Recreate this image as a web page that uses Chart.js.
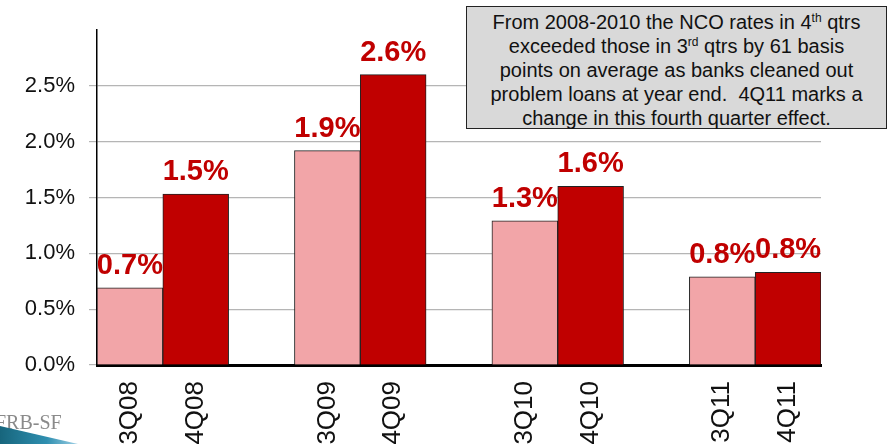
<!DOCTYPE html>
<html>
<head>
<meta charset="utf-8">
<script src="https://cdn.jsdelivr.net/npm/chart.js@4"></script>
<style>
  html, body { margin: 0; padding: 0; background: #fff; }
  #wrap { position: relative; width: 892px; height: 444px; overflow: hidden; }
  #nota {
    position: absolute; left: 466px; top: 6px; width: 419px; height: 118px;
    background: #d9d9d9; border: 1.5px solid #222;
    font: 20px "Liberation Sans", Arial, sans-serif; color: #111;
    text-align: center; line-height: 24px; padding-top: 3px; box-sizing: content-box;
  }
  #nota sup { font-size: 0.6em; line-height: 0; vertical-align: 0.6em; }
  #logo { position: absolute; left: -5px; top: 411px; font: 20px "Liberation Serif", "Times New Roman", serif; color: #8a8a8a; }
  #swoosh {
    position: absolute; left: 0; top: 426px; width: 78px; height: 18px;
    background: linear-gradient(90deg, #17657c, #2f8fb0 60%, #9fd0e6);
    clip-path: polygon(0 0, 100% 100%, 0 100%);
  }
</style>
</head>
<body>
<div id="wrap">
  <canvas id="grafico" width="892" height="444"></canvas>
  <div id="logo">FRB-SF</div>
  <div id="swoosh"></div>
  <div id="nota">From 2008-2010 the NCO rates in 4<sup>th</sup> qtrs<br>exceeded those in 3<sup>rd</sup> qtrs by 61 basis<br>points on average as banks cleaned out<br>problem loans at year end.&nbsp; 4Q11 marks a<br>change in this fourth quarter effect.</div>
</div>
<script>
// trimestres (com espacos vazios entre os anos)
var trimestres = ['3Q08', '4Q08', '', '3Q09', '4Q09', '', '3Q10', '4Q10', '', '3Q11', '4Q11'];
// taxa NCO em %
var taxaNCO = [0.69, 1.53, null, 1.92, 2.60, null, 1.29, 1.60, null, 0.79, 0.83];
var ticksY = [0, 0.5, 1.0, 1.5, 2.0, 2.5];

var fonte = '"Liberation Sans", Arial, sans-serif';

// cor: 3o trimestre rosa, 4o trimestre vermelho
var cores = trimestres.map(function (t) { return t.charAt(0) === '3' ? '#f2a5a8' : '#c00000'; });

// escreve os valores em cima das barras
var rotulos = {
    id: 'rotulos',
    afterDatasetsDraw: function (chart) {
        var ctx = chart.ctx;
        var meta = chart.getDatasetMeta(0);
        ctx.save();
        ctx.font = 'bold 29px ' + fonte;
        ctx.fillStyle = '#c00000';
        ctx.textAlign = 'center';
        ctx.textBaseline = 'alphabetic';
        meta.data.forEach(function (barra, i) {
            var v = taxaNCO[i];
            if (v === null) return;
            ctx.fillText(v.toFixed(1) + '%', barra.x, barra.y - 14);
        });
        ctx.restore();
    }
};

var ctx = document.getElementById('grafico').getContext('2d');
var chart = new Chart(ctx, {
    type: 'bar',
    data: {
        labels: trimestres,
        datasets: [{
            data: taxaNCO,
            backgroundColor: cores,
            borderColor: '#222',
            borderWidth: 1,
            barPercentage: 1,
            categoryPercentage: 1
        }]
    },
    options: {
        responsive: false,
        animation: false,
        layout: { padding: { top: 30, right: 71, left: 0, bottom: 0 } },
        plugins: { legend: { display: false }, tooltip: { enabled: false } },
        scales: {
            x: {
                grid: { display: true, drawOnChartArea: false, drawTicks: false },
                border: { display: true, color: '#000', width: 3 },
                ticks: {
                    minRotation: 90, maxRotation: 90, padding: 16, autoSkip: false,
                    color: '#111', font: { family: fonte, size: 26 }
                },
                afterFit: function (s) { s.height = 79; }
            },
            y: {
                min: 0, max: 3,
                afterBuildTicks: function (s) {
                    s.ticks = ticksY.concat([3]).map(function (v) { return { value: v }; });
                },
                grid: {
                    color: function (c) { return c.tick && c.tick.value === 3 ? 'rgba(0,0,0,0)' : '#b5b5b5'; },
                    lineWidth: 1.2,
                    tickLength: 8
                },
                border: { display: true, color: '#000', width: 1.5 },
                ticks: {
                    padding: 14, color: '#111', font: { family: fonte, size: 22 },
                    callback: function (v) { return v === 3 ? '' : v.toFixed(1) + '%'; }
                },
                afterFit: function (s) { s.width = 97; }
            }
        }
    },
    plugins: [rotulos]
});
</script>
</body>
</html>
